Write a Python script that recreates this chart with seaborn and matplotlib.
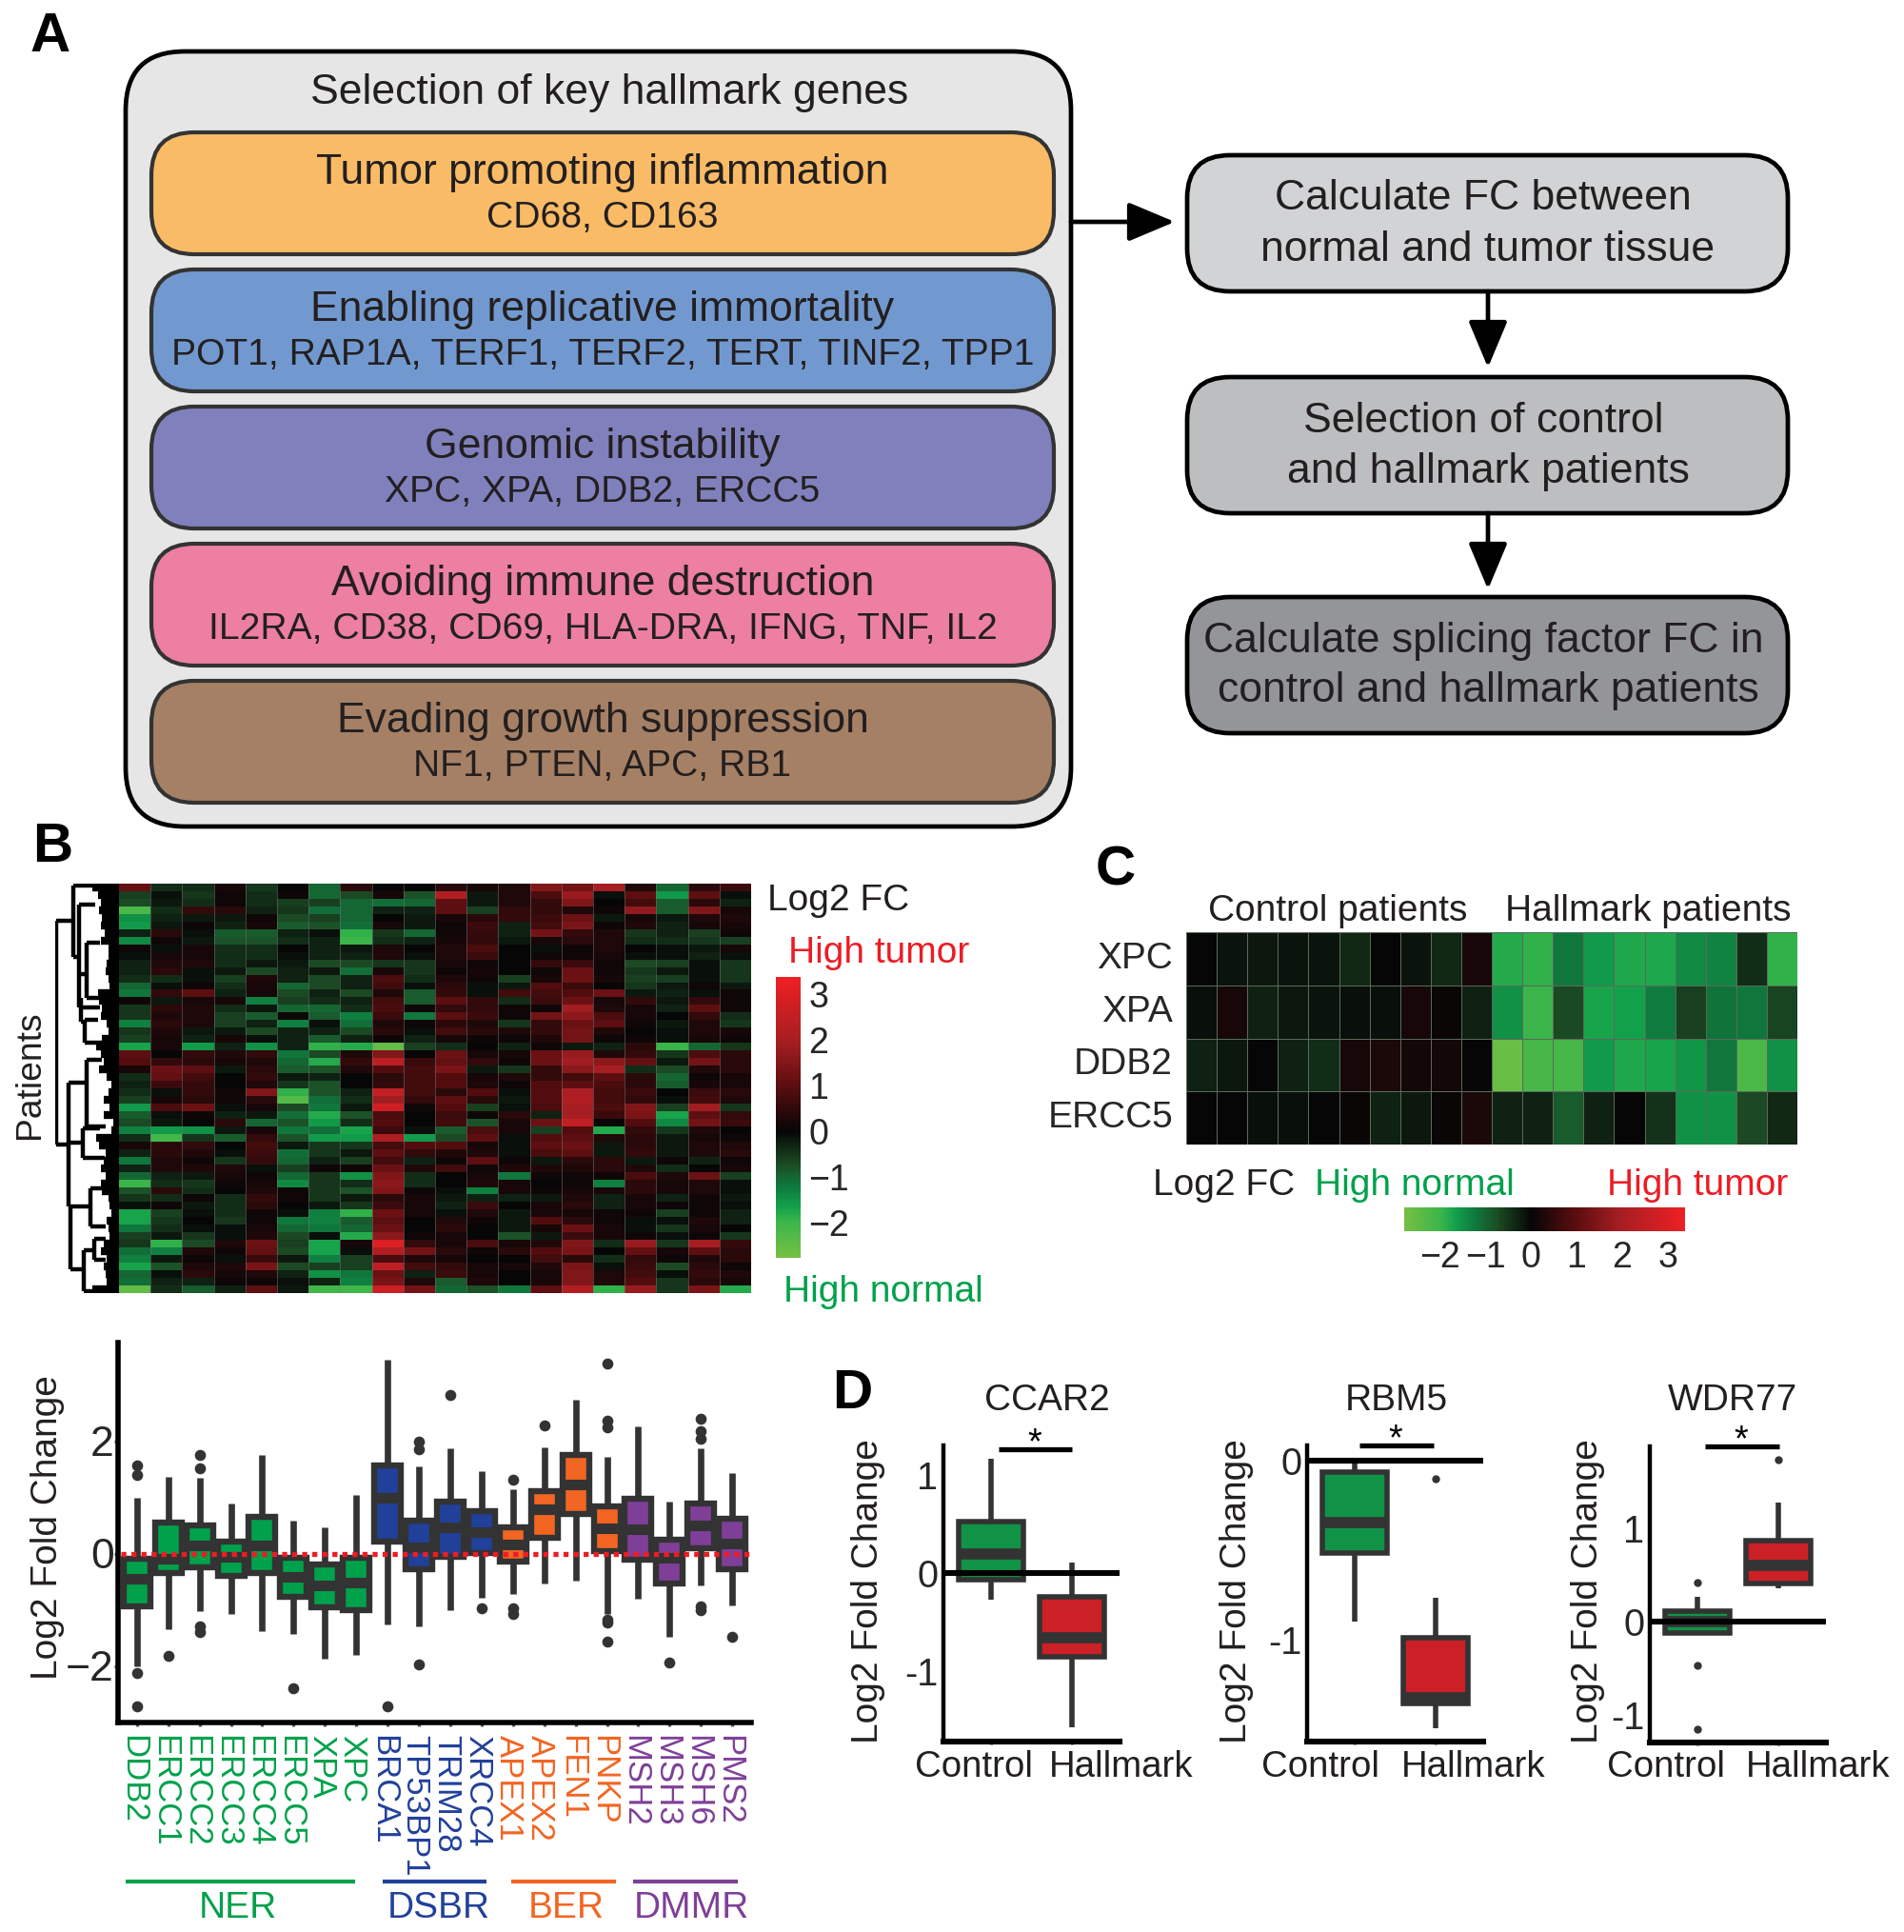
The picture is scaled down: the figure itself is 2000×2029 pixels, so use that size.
#recreate of hallmark genes figure: flow chart (A), heatmaps + boxplots (B, C), gene boxplots (D)
import numpy as np
import pandas as pd
import matplotlib
matplotlib.use('Agg')
import matplotlib.pyplot as plt
from matplotlib.colors import LinearSegmentedColormap, Normalize
from matplotlib.cm import ScalarMappable
from matplotlib.patches import FancyBboxPatch
from matplotlib.transforms import ScaledTranslation
import seaborn as sns

sns.set_style('white')
plt.rcParams['font.family'] = ['Liberation Sans', 'DejaVu Sans']
W, H = 2000, 2029

GREEN, BLUE, ORANGE, PURPLE, RED = '#00a14b', '#21409a', '#f26522', '#7f3f98', '#ed1c24'
DARK = '#333333'

#panel A
left_titles = ['Tumor promoting inflammation', 'Enabling replicative immortality', 'Genomic instability',
               'Avoiding immune destruction', 'Evading growth suppression']
left_genes = ['CD68, CD163', 'POT1, RAP1A, TERF1, TERF2, TERT, TINF2, TPP1', 'XPC, XPA, DDB2, ERCC5',
              'IL2RA, CD38, CD69, HLA-DRA, IFNG, TNF, IL2', 'NF1, PTEN, APC, RB1']
left_colors = ['#f9bb66', '#7299cf', '#8080bc', '#ec7fa2', '#a58065']
right_lines = [['Calculate FC between', 'normal and tumor tissue'], ['Selection of control', 'and hallmark patients'],
               ['Calculate splicing factor FC in', 'control and hallmark patients']]
right_colors = ['#d1d3d4', '#bcbec0', '#939598']

#panel B heatmap, log2 FC x10 in bands of rows, 20 genes
hm_b = [
[11,-4,-4,2,-5,0,-10,4,0,0,4,2,3,15,13,20,3,-10,4,6],
[-6,-1,-5,1,-4,1,-10,-7,2,-8,22,-2,3,8,18,-1,10,-16,10,-1],
[-7,-2,-4,1,-4,-6,-6,-10,-11,-10,10,-2,3,5,15,0,7,-9,4,-3],
[-22,-4,5,4,-3,-5,-11,-10,-3,-3,10,-6,5,5,3,1,17,-9,15,2],
[-15,-3,-2,-2,1,-7,-6,-10,0,-2,2,4,5,6,12,-2,2,-2,3,3],
[-16,-2,1,-3,2,-9,-8,-11,2,-2,1,6,-3,7,14,1,3,-3,2,2],
[-3,4,-1,-9,-9,-3,-1,-19,-5,-10,1,5,-3,13,5,3,-5,-3,-6,1],
[-14,1,-2,-8,-8,-4,-3,-20,-4,-3,2,5,-2,2,4,3,-4,-4,-5,-6],
[1,-1,2,-4,-4,0,-3,-2,3,0,3,8,0,-1,1,3,0,-1,-2,2],
[-1,2,2,-4,-4,-1,-3,-3,3,-1,3,6,0,1,1,2,-1,-1,-3,-1],
[-3,3,3,-4,-2,-2,-7,-7,-5,-5,2,1,0,5,6,1,-7,-6,-1,-5],
[-3,4,-1,-2,-7,-3,-2,-11,2,-5,1,2,0,1,12,1,-5,-2,-1,-5],
[-4,-4,-1,-6,3,-3,-7,-3,8,-4,3,1,-6,2,12,2,-6,-6,-1,-5],
[-10,-1,1,-4,2,-10,-7,-3,7,-1,4,-1,-2,9,6,0,-5,-2,1,-2],
[-12,5,10,-3,2,-7,-3,-7,3,-9,5,-1,7,7,9,12,-2,-3,-1,1],
[1,-2,2,2,-13,-6,-4,-3,7,-9,10,5,-4,6,12,2,5,-2,5,1],
[-5,4,3,-4,-2,-10,-10,-4,8,1,5,5,1,1,19,3,2,-3,10,1],
[-5,3,3,-6,-9,1,-9,-13,6,-12,10,6,1,13,16,8,2,0,5,-4],
[-13,4,3,-6,-3,-13,-1,-11,3,1,4,3,-5,5,12,10,1,-2,3,-5],
[-5,3,-2,-2,-7,-3,-3,-7,4,-1,7,4,3,5,13,3,0,-1,3,2],
[-6,2,-3,2,-1,-3,-9,-3,1,-3,2,1,1,3,13,1,1,-1,2,1],
[-17,2,-16,-3,-15,-3,-19,-18,-25,-6,-4,0,-3,1,-2,-3,4,-20,-10,-5],
[10,0,5,3,5,-12,-7,3,15,0,12,2,2,12,18,3,5,-5,8,4],
[9,5,4,2,3,-10,-18,5,24,6,11,5,1,12,19,16,11,-2,13,4],
[2,12,10,-2,4,-9,-8,3,9,7,14,-2,-5,5,16,20,-4,-7,3,4],
[-4,11,7,0,5,-2,-3,0,4,7,9,2,3,5,7,10,4,-10,1,2],
[-3,6,5,0,3,-5,-8,0,5,7,9,3,1,9,10,8,4,-9,2,2],
[-4,-1,5,1,15,-19,-8,-3,25,7,4,9,-1,9,21,7,6,0,6,4],
[-6,2,4,1,4,-23,-11,-4,19,5,10,4,-2,9,22,7,5,-1,7,3],
[-16,8,12,-1,2,-7,-12,-2,28,1,9,-6,-1,8,20,8,15,-6,19,-5],
[-9,-1,1,-3,-2,-11,-18,-8,8,0,6,1,4,-3,20,6,14,-17,10,5],
[-7,-2,0,4,-10,-8,-16,-4,9,0,7,-8,2,12,25,0,9,-14,13,6],
[-13,-16,-15,-2,2,-12,-11,-17,6,-1,-9,8,2,-6,9,-18,5,-5,3,0],
[-4,-21,-5,-9,5,-8,-16,-16,21,-16,-7,10,-1,9,10,3,4,-2,2,1],
[2,4,5,0,7,-2,-5,-5,7,9,9,2,-1,10,12,-2,4,-2,3,3],
[-3,4,3,-1,6,-11,-5,-2,10,5,3,3,-1,8,10,-2,5,-2,3,4],
[-12,3,1,-5,5,-10,-3,-6,7,-3,1,10,1,-2,4,4,-2,1,-3,1],
[-3,3,3,3,-1,-6,1,1,12,3,7,1,3,3,3,4,3,-4,0,2],
[-10,-3,-2,2,1,-10,-5,-15,15,-4,0,2,-12,1,1,1,8,3,12,-6],
[-20,-4,-5,1,2,-14,-5,-4,16,-4,0,3,2,0,1,-13,4,2,3,-1],
[-8,4,-4,0,3,1,-5,-8,15,1,-1,-13,2,1,2,2,4,2,3,-1],
[-5,-4,1,-4,5,1,-5,-2,4,2,-2,-3,-3,-2,3,-3,2,-3,1,-2],
[-1,1,-2,-4,4,0,-2,-5,6,2,-3,6,0,2,4,-3,2,1,1,-1],
[-17,-6,-1,-4,1,-1,-13,-19,12,2,-1,3,-2,2,2,1,1,-6,1,-3],
[-17,-5,0,-5,1,-12,-13,-9,10,0,3,1,-2,9,4,1,-1,-1,3,-3],
[-12,-4,-1,-1,2,-10,-12,-10,12,0,4,0,-2,2,12,2,-1,-5,2,0],
[-6,-2,-5,-1,3,-7,-1,-18,16,1,2,0,-8,-2,6,2,1,-1,1,-5],
[-5,-19,-7,3,12,-6,-17,2,30,5,2,8,2,3,15,-4,18,-5,20,5],
[-11,-13,3,1,11,-7,-17,-1,22,13,4,1,4,9,14,0,11,2,10,4],
[-13,-2,1,-1,6,-2,-13,-6,8,3,2,0,0,7,4,-4,5,1,3,4],
[-17,-8,3,3,14,-7,-6,-6,24,7,5,2,2,3,14,-1,6,-7,4,1],
[-10,-1,4,2,3,-3,-15,-12,12,-3,6,2,0,2,15,3,7,-1,5,3],
[-11,-3,-3,1,1,-1,-3,-13,14,3,-9,3,0,2,15,3,9,-5,4,2],
[-25,-4,-9,-3,10,-2,-21,-21,27,13,-10,-8,-12,10,22,-19,18,-5,14,-18],
]

#dendrogram in px from the heatmap edge (h) and px from its top (y)
dendro_v = [(66,39,274),(48,2,77),(42,22,130),(34,62,120),(40,120,145),(36,143,167),(53,209,339),(34,185,255),
            (38,257,288),(51,339,405),(30,320,360),(37,385,428),(26,373,395)]
dendro_h = [(66,48,39),(66,53,274),(48,15,2),(48,42,77),(42,25,22),(42,20,130),(42,34,95),(34,20,62),(34,18,120),
            (42,40,125),(40,36,145),(36,22,143),(36,16,167),(53,34,209),(34,18,185),(34,14,255),(53,38,272),
            (38,20,257),(38,15,288),(51,30,339),(30,16,320),(30,14,360),(51,37,405),(37,26,385),(26,14,373),
            (26,14,395),(37,28,428)]
dendro_comb = [35,28,24,26,22,24,19,24,14,14,16,18,14,12,28,26,22,24,16,14,22,30,24,20,26,16,10,14,20,12,20,8,10,30,26,18,
               20,24,18,24,22,14,12,10,16,14,12,20,24,16,20,18,16,35]

#panel B boxes
genes = ['DDB2','ERCC1','ERCC2','ERCC3','ERCC4','ERCC5','XPA','XPC','BRCA1','TP53BP1','TRIM28','XRCC4',
         'APEX1','APEX2','FEN1','PNKP','MSH2','MSH3','MSH6','PMS2']
gene_colors = [GREEN]*8 + [BLUE]*4 + [ORANGE]*4 + [PURPLE]*4
whis_lo = [-2.0,-1.33,-1.02,-1.06,-1.37,-1.42,-1.87,-1.8,-1.25,-1.28,-1.0,-.78,-.71,-.53,-.47,-1.06,-.79,-1.48,-.56,-.92]
box_q1 = [-.93,-.34,-.24,-.38,-.33,-.76,-.95,-1.0,.23,-.27,-.04,.02,-.13,.3,.72,.05,-.1,-.53,.11,-.27]
box_med = [-.43,-.08,.16,-.05,.16,-.4,-.55,-.5,1.0,.13,.47,.4,.17,.8,1.24,.46,.44,-.07,.51,.19]
box_q3 = [-.08,.56,.52,.22,.66,-.06,-.19,-.06,1.58,.6,.94,.76,.47,1.13,1.77,.85,.98,.26,.9,.63]
whis_hi = [1.0,1.37,1.36,.9,1.76,.6,.48,1.05,3.46,1.56,1.88,1.48,1.15,1.9,2.76,1.74,2.28,.93,1.88,1.44]
flier_genes = ['DDB2','DDB2','DDB2','DDB2','ERCC1','ERCC2','ERCC2','ERCC2','ERCC2','ERCC5','BRCA1','TP53BP1','TP53BP1','TP53BP1',
               'TRIM28','XRCC4','APEX1','APEX1','APEX1','APEX2','PNKP','PNKP','PNKP','PNKP','PNKP','PNKP','MSH3',
               'MSH6','MSH6','MSH6','MSH6','MSH6','PMS2']
flier_vals = [1.58,1.41,-2.11,-2.72,-1.82,1.76,1.53,-1.28,-1.39,-2.39,-2.71,2.01,1.87,-1.96,
              2.83,-.96,1.32,-.97,-1.06,2.29,3.39,2.38,2.26,-1.16,-1.22,-1.56,-1.93,
              2.42,2.19,2.06,-.93,-1.0,-1.48]

groups = ['NER', 'DSBR', 'BER', 'DMMR']
group_colors = [GREEN, BLUE, ORANGE, PURPLE]

#panel C heatmap
c_rows = ['XPC', 'XPA', 'DDB2', 'ERCC5']
hm_c = [
[0,-.15,-.2,-.15,-.15,-.35,0,-.15,-.35,.2,-1.8,-1.9,-1.2,-1.6,-1.75,-1.75,-1.4,-1.35,-.4,-1.9],
[-.1,.2,-.3,-.2,-.15,-.1,-.1,.2,.05,-.3,-1.5,-2.0,-.7,-1.7,-1.65,-1.25,-.6,-1.15,-1.2,-.65],
[-.3,-.2,0,-.3,-.4,.2,.25,.15,.15,0,-2.6,-2.15,-2.15,-1.6,-1.75,-1.7,-1.55,-1.2,-2.2,-1.5],
[0,0,-.1,-.1,0,.05,-.3,-.2,.05,.25,-.3,-.3,-.9,-.3,0,-.45,-1.5,-1.5,-.7,-.35],
]
cb_ticks = [-2, -1, 0, 1, 2, 3]
cb_labels = ['\u22122', '\u22121', '0', '1', '2', '3']

#panel D, each list is whisker low, q1, median, q3, whisker high
d_names = ['CCAR2', 'RBM5', 'WDR77']
d_control = [[-.27,-.07,.19,.52,1.16], [-.90,-.517,-.348,-.067,0.0], [-.12,-.12,-.0,.115,.26]]
d_hallmark = [[-1.57,-.85,-.66,-.245,.11], [-1.497,-1.357,-1.325,-.99,-.77], [.36,.41,.6,.86,1.27]]
d_control_fliers = [[], [], [.42,-.47,-1.15]]
d_hallmark_fliers = [[], [-.103], [1.725]]
d_ylims = [(-1.716,1.297), (-1.572,.084), (-1.29,1.87)]
d_ticks = [[-1,0,1], [-1,0], [-1,0,1]]
d_boxes = [(991,1518,1176,1829), (1373,1518,1558,1829), (1733,1519,1918,1830)]

fig = plt.figure(figsize=(W/200, H/200), dpi=200)

def ax_px(x0, y0, x1, y1):
    return fig.add_axes([x0/W, 1-y1/H, (x1-x0)/W, (y1-y0)/H])

def shift(lab, dx, dy):
    #move a tick label by some px of the output
    lab.set_transform(lab.get_transform() + ScaledTranslation(dx/200, dy/200, fig.dpi_scale_trans))

fc_cmap = LinearSegmentedColormap.from_list('fc', [(0, '#76c043'), (.13, '#39b54a'), (.18, '#12a14b'), (.25, '#0e7a3e'),
                                                   (.33, '#1c4d25'), (.45, '#060606'), (.61, '#5a0d0f'), (.77, '#a51e22'),
                                                   (1, '#ee2024')])
vmin, vmax = -2.78, 3.38

#B heatmap
ax = ax_px(125, 928, 789, 1358)
sns.heatmap(np.array(hm_b)/10, ax=ax, cmap=fc_cmap, vmin=vmin, vmax=vmax, cbar=False, xticklabels=False, yticklabels=False)
ax.vlines(range(1, 20), 0, len(hm_b), color='#777777', lw=.3, alpha=.6)

#dendrogram
ax = ax_px(58, 928, 125, 1358)
ax.set_xlim(67, 0)
ax.set_ylim(430, 0)
ax.axis('off')
row_h = 430/len(dendro_comb)
for i, d in enumerate(dendro_comb):
    ax.hlines((i+.5)*row_h, 0, d*.8, color='black', lw=3.0)
for h, y0, y1 in dendro_v:
    ax.vlines(h, y0, y1, color='black', lw=1.6)
for h0, h1, y in dendro_h:
    ax.hlines(y, h0, h1, color='black', lw=1.6)

#B colorbar
cax = ax_px(815, 1026, 841, 1321)
cb = fig.colorbar(ScalarMappable(Normalize(vmin, vmax), fc_cmap), cax=cax, orientation='vertical')
cb.outline.set_visible(False)
cb.set_ticks(cb_ticks, labels=cb_labels)
cax.tick_params(length=0, pad=3, labelsize=13.5)

#B boxplot
df_box = pd.DataFrame({'gene': np.repeat(genes, 5),
                       'val': np.column_stack([whis_lo, box_q1, box_med, box_q3, whis_hi]).ravel()})
df_fl = pd.DataFrame({'gene': flier_genes, 'val': flier_vals})
ax = ax_px(124, 1410, 789, 1809)
sns.boxplot(data=df_box, x='gene', y='val', hue='gene', order=genes, hue_order=genes, palette=gene_colors, legend=False,
            ax=ax, whis=(0, 100), showcaps=False, showfliers=False, width=.85, saturation=1, linecolor=DARK, linewidth=2.3,
            medianprops=dict(linewidth=4.0, color=DARK), whiskerprops=dict(linewidth=2.4, color=DARK))
sns.stripplot(data=df_fl, x='gene', y='val', order=genes, color=DARK, size=4.2, jitter=False, ax=ax, zorder=3)
ax.axhline(0, xmin=.005, color=RED, lw=1.9, ls=(0, (1, 1)), zorder=6)
ax.set_xlim(-.6, 19.6)
ax.set_ylim(-3.0, 3.77)
ax.set_xlabel('')
ax.set_ylabel('')
ax.set_yticks([-2, 0, 2], labels=['\u22122', '0', '2'])
ax.set_xticks(range(20), labels=genes, rotation=-90, fontsize=12.5)
ax.tick_params(axis='y', labelsize=16, length=1.5, width=1.2, color='#555555', pad=0, left=True)
ax.tick_params(axis='x', length=1.5, width=1.2, color='#555555', pad=3, bottom=True)
for lab, col in zip(ax.get_xticklabels(), gene_colors):
    lab.set_color(col)
    shift(lab, -4, 0)
for lab in ax.get_yticklabels():
    shift(lab, 0, 1)
sns.despine(ax=ax)
for s in ['left', 'bottom']:
    ax.spines[s].set_linewidth(2.0)
    ax.spines[s].set_color('black')

#C heatmap
ax = ax_px(1246, 979, 1888, 1202)
sns.heatmap(np.array(hm_c), ax=ax, cmap=fc_cmap, vmin=vmin, vmax=vmax, cbar=False, xticklabels=False, yticklabels=c_rows,
            linewidths=.25, linecolor='#5a6a5a')
ax.tick_params(axis='y', length=0, labelsize=14, rotation=0, pad=5)

#C colorbar
cax = ax_px(1475, 1268, 1770, 1293)
cb = fig.colorbar(ScalarMappable(Normalize(vmin, vmax), fc_cmap), cax=cax, orientation='horizontal')
cb.outline.set_visible(False)
cb.set_ticks(cb_ticks, labels=cb_labels)
cax.tick_params(length=0, pad=3.5, labelsize=13.5)

#D boxplots
for i in range(3):
    ax = ax_px(*d_boxes[i])
    df = pd.DataFrame({'grp': ['Control']*5 + ['Hallmark']*5, 'val': d_control[i] + d_hallmark[i]})
    sns.boxplot(data=df, x='grp', y='val', hue='grp', palette=['#109347', '#cc2027'], legend=False, ax=ax, whis=(0, 100),
                showcaps=False, showfliers=False, width=.8, saturation=1, linecolor=DARK, linewidth=2.0,
                medianprops=dict(linewidth=4.2, color=DARK), whiskerprops=dict(linewidth=2.0, color=DARK))
    df_f = pd.DataFrame({'grp': ['Control']*len(d_control_fliers[i]) + ['Hallmark']*len(d_hallmark_fliers[i]),
                         'val': d_control_fliers[i] + d_hallmark_fliers[i]})
    if len(df_f) > 0:
        sns.stripplot(data=df_f, x='grp', y='val', order=['Control', 'Hallmark'], color=DARK, size=3.0, jitter=False, ax=ax, zorder=3)
    ax.axhline(0, color='black', lw=2.2, zorder=6)
    ax.set_xlim(-.59, 1.59)
    ax.set_ylim(*d_ylims[i])
    ax.set_xlabel('')
    ax.set_ylabel('')
    ax.set_xticks([0, 1], labels=['', ''])
    ax.set_yticks(d_ticks[i], labels=[str(t) for t in d_ticks[i]])
    ax.tick_params(axis='y', labelsize=14.3, length=0, pad=2)
    ax.tick_params(axis='x', length=1.2, width=1.2, color='#555555', bottom=True)
    sns.despine(ax=ax)
    ax.spines['left'].set_linewidth(1.6)
    ax.spines['bottom'].set_linewidth(2.2)
    ax.spines['left'].set_color('black')
    ax.spines['bottom'].set_color('black')

#overlay in figure pixels for panel A, text and small annotation lines
ov = fig.add_axes([0, 0, 1, 1], facecolor='none')
ov.set_xlim(0, W)
ov.set_ylim(H, 0)
ov.axis('off')

def box(x0, y0, x1, y1, fc, ec, lw, r):
    ov.add_patch(FancyBboxPatch((x0, y0), x1-x0, y1-y0, boxstyle='round,pad=0,rounding_size=%d' % r, fc=fc, ec=ec, lw=lw))

def txt(x, y, s, size=16, color='#231f20', ha='center', **kw):
    ov.text(x, y+4, s, fontsize=size, color=color, ha=ha, va='center', **kw)

for s, x, y in [('A', 32, 35), ('B', 34, 886), ('C', 1151, 910), ('D', 874, 1460)]:
    txt(x, y, s, size=21, color='black', ha='left', fontweight='bold')

box(132, 54, 1125, 868, '#e6e6e6', 'black', 1.7, 62)
txt(640, 93, 'Selection of key hallmark genes')
for i in range(5):
    y0 = 139 + i*144
    box(159, y0, 1107, y0+128, left_colors[i], DARK, 1.5, 45)
    txt(633, y0+38, left_titles[i])
    txt(633, y0+86, left_genes[i], size=14.05)

for i, y0 in enumerate([163, 396, 627]):
    box(1247, y0, 1878, y0+143, right_colors[i], 'black', 1.7, 45)
    txt(1558, y0+42, right_lines[i][0])
    txt(1563, y0+95, right_lines[i][1])

arrow = dict(arrowstyle='-|>,head_length=1.0,head_width=0.42', color='black', lw=1.7, mutation_scale=15, shrinkA=0, shrinkB=0)
ov.annotate('', xy=(1234, 233), xytext=(1125, 233), arrowprops=arrow)
ov.annotate('', xy=(1563, 386), xytext=(1563, 306), arrowprops=arrow)
ov.annotate('', xy=(1563, 619), xytext=(1563, 539), arrowprops=arrow)

#B text
txt(806, 942, 'Log2 FC', size=14, ha='left')
txt(828, 997, 'High tumor', size=14, color=RED, ha='left')
txt(823, 1353, 'High normal', size=14, color=GREEN, ha='left')
txt(31, 1125, 'Patients', size=13.4, rotation=90)
txt(50, 1600, 'Log2 Fold Change', size=14, rotation=90)
for g, c, x0, x1, xt in zip(groups, group_colors, [132, 402, 537, 665], [373, 511, 647, 775], [250, 461, 595, 726]):
    ov.plot([x0, x1], [1976, 1976], color=c, lw=1.5, solid_capstyle='butt')
    txt(xt, 2000, g, size=14, color=c)

#C text
txt(1405, 953, 'Control patients', size=14)
txt(1731, 953, 'Hallmark patients', size=14)
txt(1286, 1241, 'Log2 FC', size=14)
txt(1486, 1241, 'High normal', size=14, color=GREEN)
txt(1783, 1241, 'High tumor', size=14, color=RED)

#D text
for name, xt, xl, xc, xh, bar, ys in zip(d_names, [1100, 1467, 1820], [912, 1299, 1668], [1023, 1387, 1750], [1178, 1548, 1910],
                                         [(1049, 1126), (1428, 1506), (1791, 1869)], [1522, 1518, 1519]):
    txt(xt, 1467, name, size=14)
    txt(xl, 1667, 'Log2 Fold Change', size=14, rotation=90)
    txt(xc, 1852, 'Control', size=13.8)
    txt(xh, 1852, 'Hallmark', size=13.8)
    ov.plot(bar, [ys, ys], color='black', lw=1.9, solid_capstyle='butt')
    txt(sum(bar)/2 - 1, ys-10, '*', size=13.7, color='black')

fig.savefig('out.png', dpi=200)
